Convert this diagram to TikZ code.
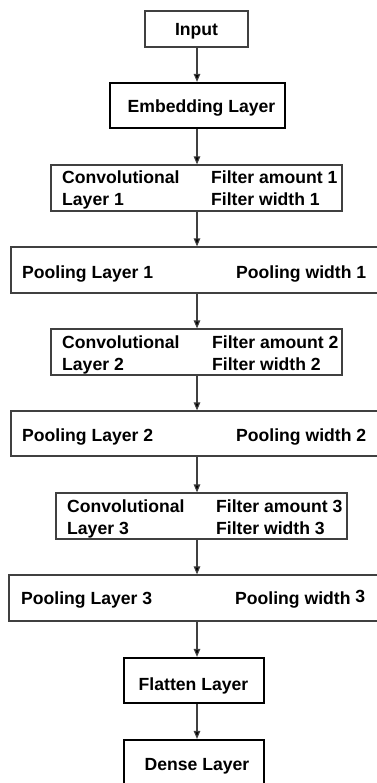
\documentclass[tikz,border=0pt]{standalone}
\usepackage{fontspec}
\setmainfont{Liberation Sans}
\usetikzlibrary{arrows.meta}
\begin{document}
\begin{tikzpicture}[x=1pt,y=-1pt,
  thinbox/.style={draw=black!75,line width=1.2pt,inner sep=0pt},
  thickbox/.style={draw=black,line width=2.2pt,inner sep=0pt},
  lbl/.style={font=\fontsize{17.6}{20}\selectfont\bfseries,inner sep=0pt,anchor=base west},
  clbl/.style={font=\fontsize{17.6}{20}\selectfont\bfseries,inner sep=0pt,anchor=base},
  conn/.style={draw=black!75,line width=1.1pt,-{Triangle[length=8pt,width=6.5pt,fill=black]}}
]
\useasboundingbox (0,0) rectangle (376,783);
% boxes
\node[thinbox,minimum width=103pt,minimum height=36pt] (in) at (196.5,29) {};
\node[thickbox,minimum width=175pt,minimum height=45pt] (emb) at (197.5,105.5) {};
\node[thinbox,minimum width=291pt,minimum height=46pt] (c1) at (196.5,188) {};
\node[thinbox,minimum width=369pt,minimum height=46pt] (p1) at (195.5,270) {};
\node[thinbox,minimum width=291pt,minimum height=46pt] (c2) at (196.5,352) {};
\node[thinbox,minimum width=369pt,minimum height=45pt] (p2) at (195.5,433.5) {};
\node[thinbox,minimum width=291pt,minimum height=46pt] (c3) at (201.5,516) {};
\node[thinbox,minimum width=371pt,minimum height=46pt] (p3) at (194.5,598) {};
\node[thickbox,minimum width=140pt,minimum height=45pt] (fl) at (194,680.5) {};
\node[thickbox,minimum width=140pt,minimum height=50pt] (de) at (194,765) {};
% texts
\node[clbl] (tin) at (196.5,36) {Input};
\node[clbl] (temb) at (201.5,113) {Embedding Layer};
\node[lbl] (tc1a) at (62,184) {Convolutional};
\node[lbl] (tc1b) at (62,206) {Layer 1};
\node[lbl] (tc1c) at (211,184) {Filter amount 1};
\node[lbl] (tc1d) at (211,206) {Filter width 1};
\node[lbl] (tp1a) at (22,278) {Pooling Layer 1};
\node[lbl] (tp1b) at (236,278) {Pooling width 1};
\node[lbl] (tc2a) at (62,348) {Convolutional};
\node[lbl] (tc2b) at (62,370) {Layer 2};
\node[lbl] (tc2c) at (212,348) {Filter amount 2};
\node[lbl] (tc2d) at (212,370) {Filter width 2};
\node[lbl] (tp2a) at (22,441) {Pooling Layer 2};
\node[lbl] (tp2b) at (236,441) {Pooling width 2};
\node[lbl] (tc3a) at (67,512) {Convolutional};
\node[lbl] (tc3b) at (67,534) {Layer 3};
\node[lbl] (tc3c) at (216,512) {Filter amount 3};
\node[lbl] (tc3d) at (216,534) {Filter width 3};
\node[lbl] (tp3a) at (21,604) {Pooling Layer 3};
\node[lbl] (tp3b) at (235,604) {Pooling width \raisebox{1.5pt}{3}};
\node[clbl] (tfl) at (193.5,690) {Flatten Layer};
\node[clbl] (tde) at (197,770) {Dense Layer};
% connectors
\draw[conn] (in.south -| 197,0) -- (emb.north -| 197,0);
\draw[conn] (emb.south -| 197,0) -- (c1.north -| 197,0);
\draw[conn] (c1.south -| 197,0) -- (p1.north -| 197,0);
\draw[conn] (p1.south -| 197,0) -- (c2.north -| 197,0);
\draw[conn] (c2.south -| 197,0) -- (p2.north -| 197,0);
\draw[conn] (p2.south -| 197,0) -- (c3.north -| 197,0);
\draw[conn] (c3.south -| 197,0) -- (p3.north -| 197,0);
\draw[conn] (p3.south -| 197,0) -- (fl.north -| 197,0);
\draw[conn] (fl.south -| 197,0) -- (de.north -| 197,0);
\end{tikzpicture}
\end{document}
